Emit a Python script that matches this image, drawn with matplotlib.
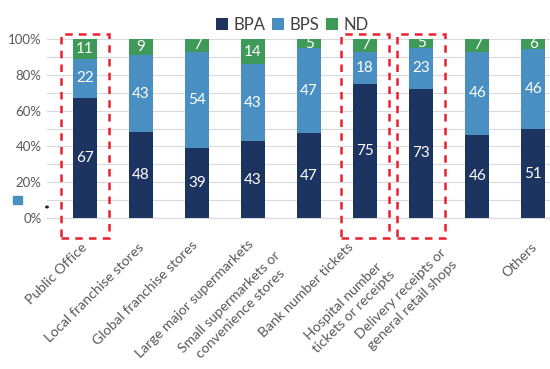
import numpy as np
import matplotlib
matplotlib.use("Agg")
import matplotlib.pyplot as plt
import matplotlib.patches as mpatches

plt.rcParams["font.family"] = ["Lato", "DejaVu Sans"]

categories = [
    "Public Office",
    "Local franchise stores",
    "Global franchise stores",
    "Large major supermarkets",
    "Small supermarkets or\nconvenience stores",
    "Bank number tickets",
    "Hospital number\ntickets or receipts",
    "Delivery receipts or\ngeneral retail shops",
    "Others",
]
bpa = [67, 48, 39, 43, 47, 75, 73, 46, 51]
bps = [22, 43, 54, 43, 47, 18, 23, 46, 46]
nd = [11, 9, 7, 14, 5, 7, 5, 7, 6]
highlighted = [0, 5, 6]  # dashed boxes around these bars

# where each label's first baseline ends, in pixels from (bar, axis bottom)
LABEL_OFFSETS = [(3, 30), (4, 30), (1, 28), (1, 27), (-20, 47),
                 (-11, 30), (-28, 55), (-22, 44), (4, 30)]

C_BPA = "#1d3461"
C_BPS = "#4a8fc2"
C_ND = "#3f9a59"
GREY = "#595959"

fig = plt.figure(figsize=(5.5, 3.69), dpi=100)
ax = fig.add_axes([47 / 550, 151 / 369, 503 / 550, 179 / 369])

x = np.arange(len(categories))
a = np.array(bpa, float)
b = np.array(bps, float)
n = np.array(nd, float)
tot = a + b + n
pa, pb, pn = a / tot * 100, b / tot * 100, n / tot * 100

w = 0.42
ax.bar(x, pa, w, color=C_BPA, label="BPA", zorder=3)
ax.bar(x, pb, w, bottom=pa, color=C_BPS, label="BPS", zorder=3)
ax.bar(x, pn, w, bottom=pa + pb, color=C_ND, label="ND", zorder=3)

for i in x:
    segs = [(pa[i] / 2, bpa[i]), (pa[i] + pb[i] / 2, bps[i]),
            (pa[i] + pb[i] + pn[i] / 2, nd[i])]
    for yc, v in segs:
        ax.text(i, yc, str(v), ha="center", va="center", color="white",
                fontsize=11, zorder=4)

ax.set_xlim(-0.68, 8.3)
ax.set_ylim(0, 100)
ax.set_yticks(np.arange(0, 101, 10))
ax.set_yticklabels([f"{v}%" if v % 20 == 0 else "" for v in range(0, 101, 10)],
                   color=GREY, fontsize=9.5)
ax.tick_params(axis="y", length=0, pad=4)
ax.set_xticks([])
ax.grid(axis="y", color="#d9d9d9", lw=0.8, zorder=0)
for s in ["top", "right", "left"]:
    ax.spines[s].set_visible(False)
ax.spines["bottom"].set_color("#d9d9d9")

for i, (lab, (dx, dy)) in enumerate(zip(categories, LABEL_OFFSETS)):
    ax.annotate(lab, xy=(i, 0), xycoords=("data", "axes fraction"),
                xytext=(dx, -dy), textcoords="offset pixels",
                rotation=45, rotation_mode="anchor", ha="right", va="baseline",
                multialignment="center", color=GREY, fontsize=10.2,
                linespacing=1.4, annotation_clip=False)

# dashed highlight boxes around selected bars
for i in highlighted:
    rect = mpatches.Rectangle((i - 0.43, -11), 0.86, 114, fill=False,
                              edgecolor="#e8202f", lw=1.8, ls=(0, (3, 2.5)),
                              clip_on=False, zorder=5)
    ax.add_patch(rect)

ax.legend(loc="center", bbox_to_anchor=(292 / 550, 1 - 25 / 369),
          bbox_transform=fig.transFigure, ncol=3, frameon=False,
          fontsize=12, handlelength=0.75, handleheight=0.75,
          handletextpad=0.3, columnspacing=0.4, labelcolor="#404040",
          borderpad=0)

# stray legend swatch at left edge
fig.patches.append(mpatches.Rectangle((13 / 550, 1 - 204 / 369), 9 / 550, 8 / 369,
                                      transform=fig.transFigure, color=C_BPS))
fig.patches.append(mpatches.Circle((47 / 550, 1 - 207 / 369), 1.2 / 550,
                                   transform=fig.transFigure, color="#222222"))

fig.savefig("out.png", dpi=100)
